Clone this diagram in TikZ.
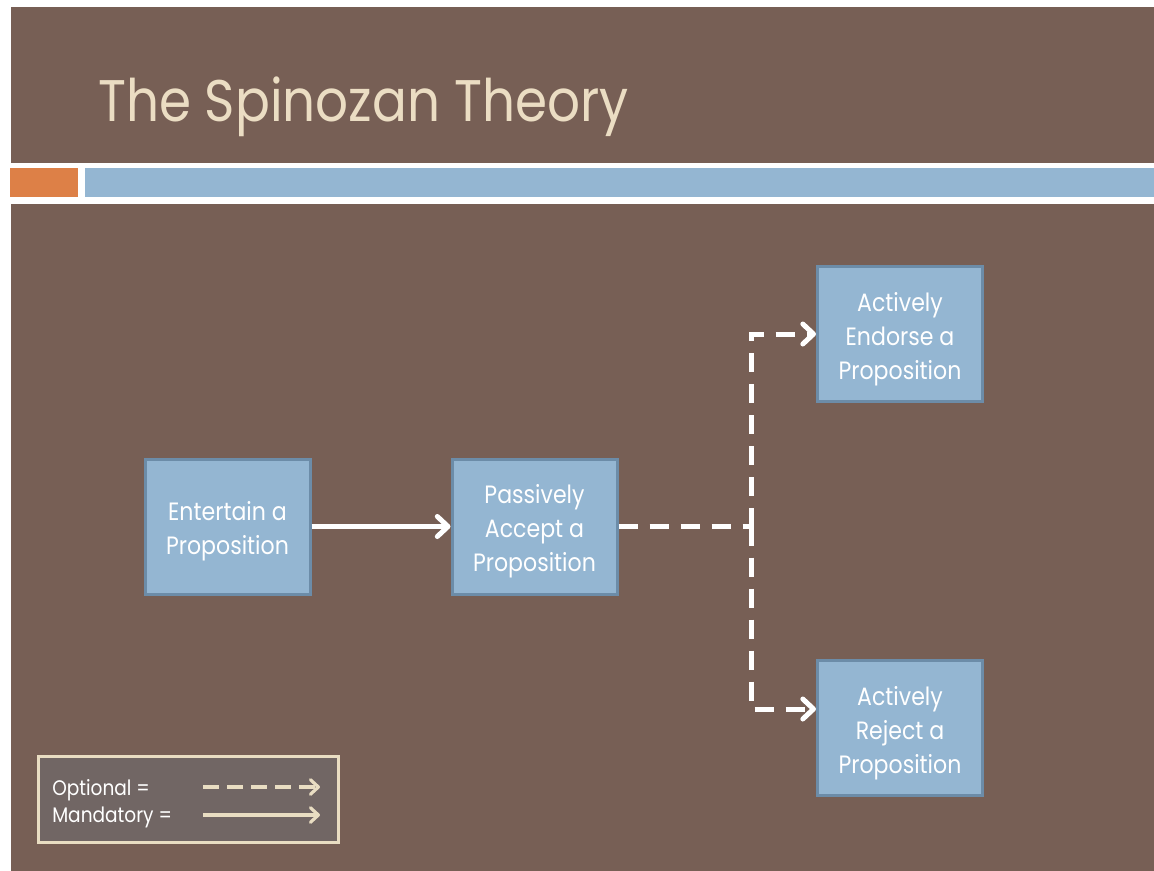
\documentclass[tikz,border=0pt]{standalone}
\usepackage{fontspec}
\setmainfont{Poppins}
\newfontfamily\boxfont[FakeStretch=0.88]{Poppins}
\usetikzlibrary{arrows.meta}
\definecolor{panelbrown}{HTML}{775F55}
\definecolor{barblue}{HTML}{94B6D2}
\definecolor{barorange}{HTML}{DD8047}
\definecolor{titlecream}{HTML}{EBDDC3}
\definecolor{boxborder}{HTML}{6C8CA8}
\definecolor{legendfill}{HTML}{716664}
\definecolor{legendline}{HTML}{E9DDC2}
\newcommand\stagetext[1]{\raisebox{-3.5pt}[\height][\depth]{\begin{tabular}{@{}c@{}}#1\end{tabular}}}
\tikzset{
  stagebox/.style={draw=boxborder, fill=barblue, line width=2.25pt,
    minimum width=123.75pt, minimum height=101.25pt, inner sep=0pt,
    text=white, font=\boxfont\fontsize{18.8}{25.5}\selectfont},
  mandarrow/.style={draw=white, line width=3.75pt,
    -{Straight Barb[length=8pt,width=15pt,round]}},
  optline/.style={draw=white, line width=3.75pt, dash pattern=on 14.25pt off 9pt},
  optarrow/.style={optline, -{Straight Barb[length=8pt,width=15pt,round]}},
  legtext/.style={text=white, anchor=base west, inner sep=0pt, font=\boxfont\fontsize{15.8}{18}\selectfont},
  legarrow/.style={draw=legendline, line width=2.4pt, -{Straight Barb[length=6pt,width=11pt,round]}},
}
\begin{document}
\begin{tikzpicture}[x=0.75pt, y=-0.75pt]
\useasboundingbox (0,0) rectangle (1154,871);
\fill[white] (0,0) rectangle (1154,871);
% panels and bars
\fill[panelbrown] (11,7) rectangle (1154,163);
\fill[barorange] (10,168) rectangle (78,197);
\fill[barblue] (85,168) rectangle (1154,197);
\fill[panelbrown] (11,204) rectangle (1154,871);
% title
\node[anchor=base west, inner sep=0pt, text=titlecream,
  font=\boxfont\fontsize{44}{50}\selectfont] (title) at (98,121) {The Spinozan Theory};
% boxes
\node[stagebox] (ent) at (227.5,526.5) {\stagetext{Entertain a\\Proposition}};
\node[stagebox] (pas) at (534.5,526.5) {\stagetext{Passively\\Accept a\\Proposition}};
\node[stagebox] (end) at (900,334) {\stagetext{Actively\\Endorse a\\Proposition}};
\node[stagebox] (rej) at (900,728) {\stagetext{Actively\\Reject a\\Proposition}};
% connectors
\draw[mandarrow] (ent.east) -- (pas.west);
\coordinate (junc) at (751,526.5);
\draw[optline] (pas.east) -- (junc);
\draw[optarrow] (junc) |- (end.west);
\draw[optarrow] (junc) |- ([yshift=14.25pt]rej.west);
% legend
\draw[fill=legendfill, draw=legendline, line width=2.25pt] (38,756) rectangle (338,842);
\node[legtext] (lopt) at (52,795) {Optional =};
\node[legtext] (lman) at (52,822) {Mandatory =};
\coordinate (oa) at (203,787);
\coordinate (ob) at (320,787);
\coordinate (ma) at (203,815);
\coordinate (mb) at (320,815);
\draw[legarrow, dash pattern=on 12pt off 6pt] (oa) -- (ob);
\draw[legarrow] (ma) -- (mb);
\end{tikzpicture}
\end{document}
